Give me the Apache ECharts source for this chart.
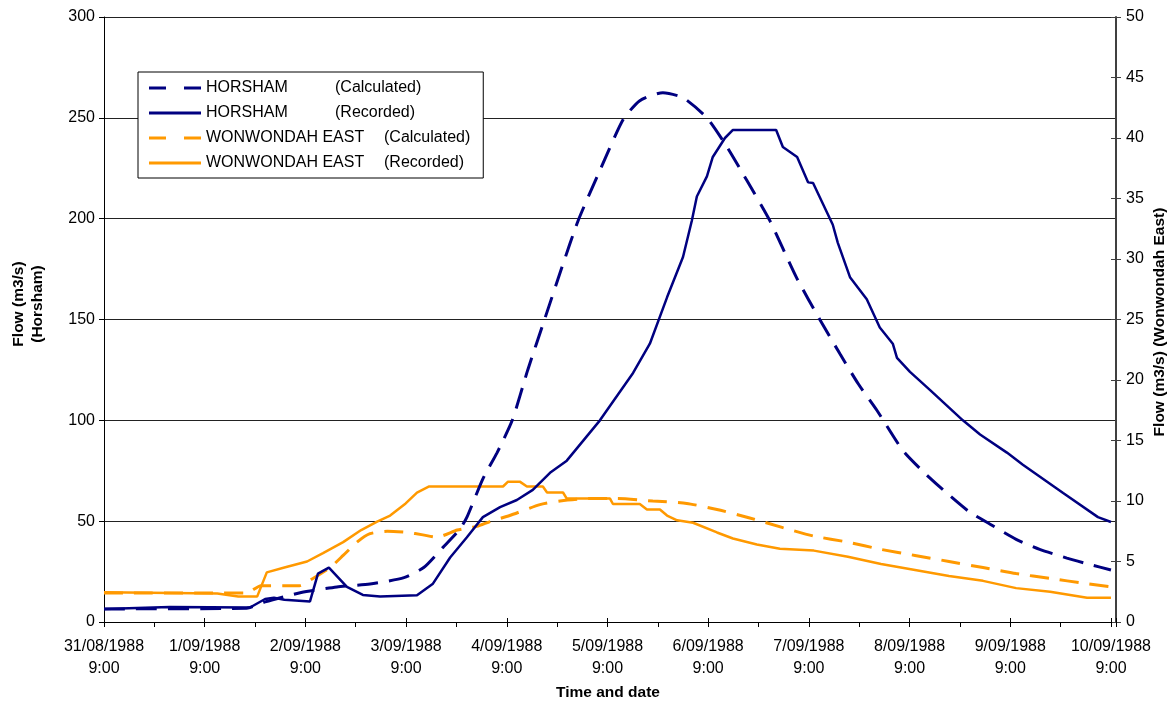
<!DOCTYPE html>
<html>
<head>
<meta charset="utf-8">
<title>Flow hydrographs – Horsham and Wonwondah East</title>
<script src="https://cdn.jsdelivr.net/npm/echarts@6/dist/echarts.min.js"></script>
<style>
  html, body { margin: 0; padding: 0; background: #fff; }
  #chart { width: 1173px; height: 705px; }
</style>
</head>
<body>
<div id="chart"></div>
<script>
// Time is measured in hours from 31/08/1988 9:00.
const xTickLabels = [
  '31/08/1988\n9:00', '1/09/1988\n9:00', '2/09/1988\n9:00', '3/09/1988\n9:00',
  '4/09/1988\n9:00', '5/09/1988\n9:00', '6/09/1988\n9:00', '7/09/1988\n9:00',
  '8/09/1988\n9:00', '9/09/1988\n9:00', '10/09/1988\n9:00'
];

// HORSHAM (Calculated) – left axis, m3/s
const horshamCalcHours = [0, 34, 38.4, 47, 55.5, 63.4, 71.5, 76.2, 80.8, 84.8,
  86.5, 90.3, 93.7, 97.3, 101, 105, 109, 113, 118.2, 123.7,
  127.7, 133.2, 138, 143.7, 148.5, 153.2, 158.7, 165, 170.6, 175.4,
  179.8, 184.2, 190.4, 195.5, 200, 206, 211.2, 217.4, 223, 229.5,
  235, 240];
const horshamCalcFlow = [6.5, 6.8, 10, 14.6, 17.4, 18.8, 22, 27, 37, 46,
  52, 71, 84, 100, 125, 150, 175, 199, 224, 249,
  258.5, 262.5, 260, 250, 235.5, 219, 199, 171, 150, 133,
  118, 105, 85, 74, 65.5, 55, 48.5, 41, 36, 31.7,
  28.5, 25.8];

// HORSHAM (Recorded) – left axis, m3/s
const horshamRecHours = [0, 15.7, 34.8, 38.4, 40.5, 43, 49.1, 51, 53.6, 57.9,
  61.7, 65.8, 74.6, 78.4, 82.5, 86.5, 90.3, 94.4, 98.4, 102.2,
  106.3, 110.3, 118.2, 126.1, 130.1, 134.2, 138, 140.1, 141.3, 143.7,
  145.1, 148, 149.9, 160.2, 161.8, 165.2, 167.8, 169, 173.7, 174.9,
  177.8, 181.8, 184.9, 188, 189, 192.1, 196.9, 204.7, 208.8, 215.2,
  219, 228.6, 236.9, 240];
const horshamRecFlow = [6.5, 7.4, 7.2, 11.4, 12, 11, 10.2, 24, 27, 17.4,
  13.4, 12.6, 13.3, 19, 32, 42, 52, 57, 60.5, 65.5,
  74, 80, 100, 123.5, 138, 161, 181, 199, 211, 221,
  230.6, 240, 244, 244, 235.5, 230.6, 218, 217.7, 197, 188,
  171, 160, 146, 138, 131, 124, 115, 100, 93, 84,
  78, 64, 52, 49.6];

// WONWONDAH EAST (Calculated) – right axis, m3/s
const wonCalcHours = [0, 34, 37.4, 46.6, 49.8, 53.9, 57, 60.3, 63.4, 67.5,
  72.3, 76, 79.3, 84.2, 88.9, 92, 96.7, 103.9, 108.7, 115.8,
  122.2, 130.8, 138.9, 146.1, 153.9, 161.8, 169.2, 177.3, 185.2, 193.3,
  201.4, 209.5, 217.4, 225.5, 233.6, 240];
const wonCalcFlow = [2.4, 2.4, 3.0, 3.0, 3.6, 4.5, 5.5, 6.6, 7.3, 7.5,
  7.4, 7.2, 7.0, 7.6, 7.9, 8.3, 8.8, 9.7, 10.0, 10.2,
  10.2, 10.0, 9.8, 9.3, 8.6, 7.8, 7.1, 6.6, 6.0, 5.5,
  5.0, 4.5, 4.0, 3.6, 3.2, 2.9];

// WONWONDAH EAST (Recorded) – right axis, m3/s
const wonRecHours = [0, 27, 32, 36.5, 38.8, 43, 48.4, 52.2, 57, 61.3,
  65.1, 68.2, 71.9, 74.6, 77.5, 95.1, 96.3, 99.1, 100.8, 104.6,
  105.6, 109.4, 110.3, 120.6, 121.3, 127.7, 129.4, 132.5, 134.2, 136.6,
  140.4, 146.1, 149.9, 155.6, 161.1, 169.2, 177.3, 185.2, 193.3, 201.4,
  209.5, 217.4, 225.5, 234.3, 240];
const wonRecFlow = [2.45, 2.35, 2.1, 2.1, 4.1, 4.5, 5.0, 5.7, 6.6, 7.6,
  8.3, 8.8, 9.8, 10.7, 11.2, 11.2, 11.6, 11.6, 11.2, 11.2,
  10.7, 10.7, 10.2, 10.2, 9.75, 9.75, 9.3, 9.3, 8.8, 8.4,
  8.2, 7.4, 6.9, 6.4, 6.05, 5.9, 5.4, 4.8, 4.3, 3.8,
  3.4, 2.8, 2.5, 2.0, 2.0];

const leftTicks = [0, 300, 50];   // min, max, interval
const rightTicks = [0, 50, 5];

const NAVY = '#000080';
const ORANGE = '#FF9900';
const FONT = '"Liberation Sans", Arial, sans-serif';
const X_MAX = 241.2; // axis runs slightly past the last date tick

const GRID = { left: 104, right: 57, top: 17, bottom: 83 };
const PLOT_W = 1173 - GRID.left - GRID.right;
const PLOT_H = 705 - GRID.top - GRID.bottom;

const pairs = (hours, vals) => hours.map((h, i) => [h, vals[i]]);

const dashIcon = 'path://M0,0H17V3H0Z M35,0H52V3H35Z';
const solidIcon = 'path://M0,0H52V3H0Z';

const chart = echarts.init(document.getElementById('chart'), null, { renderer: 'canvas' });

chart.setOption({
  animation: false,
  backgroundColor: '#fff',
  textStyle: { fontFamily: FONT, color: '#000' },
  grid: Object.assign({ containLabel: false }, GRID),
  legend: {
    orient: 'vertical',
    left: 138,
    top: 72,
    padding: [8, 13, 7, 11],
    itemGap: 9,
    itemWidth: 52,
    itemHeight: 3,
    borderColor: '#000',
    borderWidth: 1,
    backgroundColor: '#fff',
    itemStyle: { borderWidth: 0 },
    data: [
      { name: 'HORSHAM (Calculated)', icon: dashIcon },
      { name: 'HORSHAM (Recorded)', icon: solidIcon },
      { name: 'WONWONDAH EAST (Calculated)', icon: dashIcon },
      { name: 'WONWONDAH EAST (Recorded)', icon: solidIcon }
    ],
    formatter: function (name) {
      const cut = name.indexOf(' (');
      const site = name.slice(0, cut);
      const kind = name.slice(cut + 1);
      return (site === 'HORSHAM' ? '{h|' : '{w|') + site + '}{k|' + kind + '}';
    },
    textStyle: {
      fontFamily: FONT, fontSize: 16, color: '#000',
      rich: {
        h: { width: 129, fontSize: 16, fontFamily: FONT, color: '#000' },
        w: { width: 178, fontSize: 16, fontFamily: FONT, color: '#000' },
        k: { fontSize: 16, fontFamily: FONT, color: '#000' }
      }
    }
  },
  xAxis: [
    {
      type: 'value',
      min: 0,
      max: X_MAX,
      interval: 12,
      axisLine: { onZero: false, lineStyle: { color: '#000', width: 1 } },
      axisTick: { length: 5, lineStyle: { color: '#000' } },
      splitLine: { show: false },
      axisLabel: {
        color: '#000', fontFamily: FONT, fontSize: 16, lineHeight: 22, margin: 14,
        formatter: function (v) {
          const i = Math.round(v / 24);
          return Math.abs(v - i * 24) < 0.01 && i < xTickLabels.length ? xTickLabels[i] : '';
        }
      }
    },
    {
      // upper half of the day ticks, so they cross the bottom axis line
      type: 'value',
      position: 'top',
      offset: -PLOT_H,
      min: 0,
      max: X_MAX,
      interval: 24,
      axisLine: { show: false, onZero: false },
      axisTick: { length: 4, lineStyle: { color: '#000' } },
      axisLabel: { show: false },
      splitLine: { show: false }
    }
  ],
  yAxis: [
    {
      type: 'value',
      position: 'left',
      min: leftTicks[0], max: leftTicks[1], interval: leftTicks[2],
      axisLine: { show: true, onZero: false, lineStyle: { color: '#000', width: 1 } },
      axisTick: { show: true, length: 5, lineStyle: { color: '#000' } },
      splitLine: { show: true, lineStyle: { color: '#222', width: 1 } },
      axisLabel: { color: '#000', fontFamily: FONT, fontSize: 16, margin: 9 }
    },
    {
      type: 'value',
      position: 'right',
      min: rightTicks[0], max: rightTicks[1], interval: rightTicks[2],
      axisLine: { show: true, onZero: false, lineStyle: { color: '#404040', width: 2 } },
      axisTick: { show: true, length: 5, lineStyle: { color: '#404040' } },
      splitLine: { show: false },
      axisLabel: { color: '#000', fontFamily: FONT, fontSize: 16, margin: 10 }
    },
    {
      // inner half of the right-hand ticks, so they cross the axis line
      type: 'value',
      position: 'left',
      offset: -PLOT_W,
      min: rightTicks[0], max: rightTicks[1], interval: rightTicks[2],
      axisLine: { show: false, onZero: false },
      axisTick: { show: true, length: 5, lineStyle: { color: '#404040' } },
      splitLine: { show: false },
      axisLabel: { show: false }
    }
  ],
  graphic: [
    {
      type: 'text', x: 28, y: 304, rotation: Math.PI / 2,
      style: {
        text: 'Flow (m3/s)\n(Horsham)', align: 'center', verticalAlign: 'middle',
        font: 'bold 15.5px ' + FONT, lineHeight: 19, fill: '#000'
      }
    },
    {
      type: 'text', x: 1160, y: 322, rotation: Math.PI / 2,
      style: {
        text: 'Flow (m3/s) (Wonwondah East)', align: 'center', verticalAlign: 'middle',
        font: 'bold 15.5px ' + FONT, fill: '#000'
      }
    },
    {
      type: 'text', x: 608, y: 693,
      style: {
        text: 'Time and date', align: 'center', verticalAlign: 'middle',
        font: 'bold 15.5px ' + FONT, fill: '#000'
      }
    }
  ],
  series: [
    {
      name: 'WONWONDAH EAST (Calculated)', type: 'line', xAxisIndex: 0, yAxisIndex: 1,
      data: pairs(wonCalcHours, wonCalcFlow), showSymbol: false, symbol: 'none',
      smooth: 0.2,
      color: ORANGE, lineStyle: { color: ORANGE, width: 3, type: [19, 11] }
    },
    {
      name: 'WONWONDAH EAST (Recorded)', type: 'line', xAxisIndex: 0, yAxisIndex: 1,
      data: pairs(wonRecHours, wonRecFlow), showSymbol: false, symbol: 'none',
      color: ORANGE, lineStyle: { color: ORANGE, width: 2.5 }
    },
    {
      name: 'HORSHAM (Calculated)', type: 'line', xAxisIndex: 0, yAxisIndex: 0,
      data: pairs(horshamCalcHours, horshamCalcFlow), showSymbol: false, symbol: 'none',
      smooth: 0.2,
      color: NAVY, lineStyle: { color: NAVY, width: 3, type: [21, 11] }
    },
    {
      name: 'HORSHAM (Recorded)', type: 'line', xAxisIndex: 0, yAxisIndex: 0,
      data: pairs(horshamRecHours, horshamRecFlow), showSymbol: false, symbol: 'none',
      color: NAVY, lineStyle: { color: NAVY, width: 2.5 }
    }
  ]
});
</script>
</body>
</html>
